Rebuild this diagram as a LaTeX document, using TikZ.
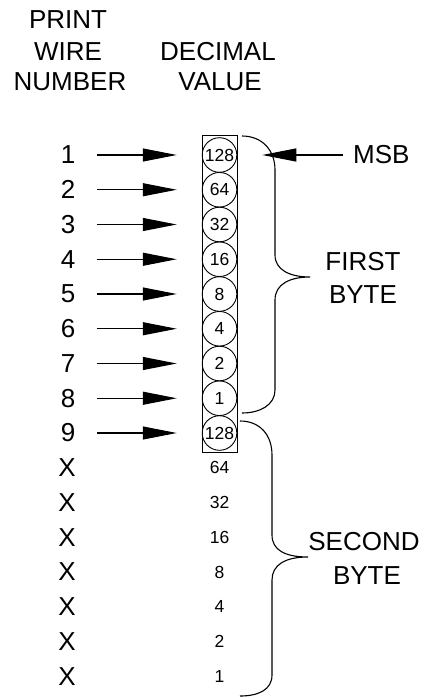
\documentclass[tikz,border=0pt]{standalone}
\usepackage{fontspec}
\setmainfont{Liberation Sans}
\usetikzlibrary{arrows.meta}
\begin{document}
\begin{tikzpicture}[x=1pt,y=-1pt,
  big/.style={font=\fontsize{26}{28}\selectfont, inner sep=0pt},
  small/.style={font=\fontsize{17.5}{19}\selectfont, inner sep=0pt},
  wire/.style={big, minimum width=44pt},
  bitcircle/.style={draw, circle, line width=0.9pt, minimum size=34.6pt, inner sep=0pt, font=\fontsize{17.5}{19}\selectfont},
  feed/.style={line width=1.1pt, -{Triangle[length=34pt,width=13pt]}},
  bracepath/.style={line width=1.1pt}
]
\useasboundingbox (0,0) rectangle (429,698);
% headers
\node[big] (hprint) at (68,20) {PRINT};
\node[big] (hwire) at (68,52) {WIRE};
\node[big] (hnumber) at (70,82) {NUMBER};
\node[big] (hdecimal) at (218,52) {DECIMAL};
\node[big] (hvalue) at (220,82) {VALUE};
% box around the circles
\draw[line width=0.9pt] (202,135) rectangle (237,452);
% first nine rows
\foreach \i/\v in {1/128,2/64,3/32,4/16,5/8,6/4,7/2,8/1,9/128}{
  \pgfmathsetmacro{\yy}{155+34.75*(\i-1)}
  \node[wire] (w\i) at (68,\yy) {\i};
  \node[bitcircle] (c\i) at (219.5,\yy) {\v};
  \draw[feed, shorten <=7pt, shorten >=25pt] (w\i.east) -- (c\i.west);
}
% remaining rows
\foreach \i/\v in {10/64,11/32,12/16,13/8,14/4,15/2,16/1}{
  \pgfmathsetmacro{\yy}{155+34.75*(\i-1)}
  \node[big] (w\i) at (67,\yy) {X};
  \node[small] (c\i) at (219.5,\yy) {\v};
}
% MSB
\node[big, anchor=west] (msb) at (353,155) {MSB};
\draw[feed, shorten <=10pt, shorten >=25pt] (msb.west) -- (c1.east);
% first brace
\coordinate (b1top) at (242,136);
\coordinate (b1tip) at (310,277);
\coordinate (b1bot) at (242,413);
\draw[bracepath] (b1top) .. controls (262,136) and (275,150) .. (275,170) -- (275,255)
  .. controls (275,270) and (290,277) .. (b1tip)
  .. controls (290,277) and (275,284) .. (275,300) -- (275,390)
  .. controls (275,405) and (260,413) .. (b1bot);
\node[big] (first) at (363,262) {FIRST};
\node[big] (byte1) at (363,295) {BYTE};
% second brace
\coordinate (b2top) at (240,421);
\coordinate (b2tip) at (308,557);
\coordinate (b2bot) at (240,696);
\draw[bracepath] (b2top) .. controls (260,421) and (272,435) .. (272,455) -- (272,535)
  .. controls (272,550) and (285,557) .. (b2tip)
  .. controls (285,557) and (272,565) .. (272,580) -- (272,675)
  .. controls (272,690) and (258,696) .. (b2bot);
\node[big] (second) at (364,542) {SECOND};
\node[big] (byte2) at (367,576) {BYTE};
\end{tikzpicture}
\end{document}
